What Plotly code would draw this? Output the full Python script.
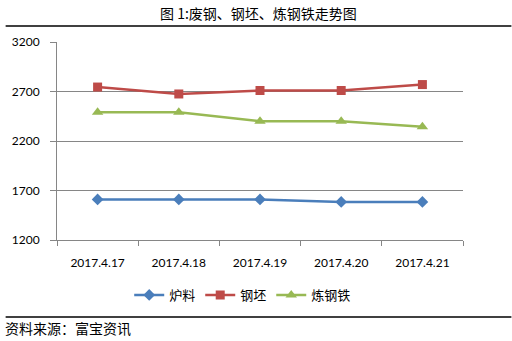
import plotly.graph_objects as go

dates = ["2017.4.17", "2017.4.18", "2017.4.19", "2017.4.20", "2017.4.21"]
furnace = [1610, 1610, 1610, 1585, 1585]        # 炉料
billet = [2745, 2675, 2710, 2710, 2770]         # 钢坯
pig_iron = [2490, 2490, 2400, 2400, 2345]       # 炼钢铁
y_ticks = [1200, 1700, 2200, 2700, 3200]

W, H = 512, 341
L, R, T, B = 52, 49, 42, 101
ph = H - T - B
pw = W - L - R

def py(pix):
    return (H - B - pix) / ph

def px(pix):
    return (pix - L) / pw

fig = go.Figure()
fig.add_trace(go.Scatter(x=dates, y=furnace, name="炉料", mode="lines+markers",
                         line=dict(color="#4A7EBB", width=2.5),
                         marker=dict(symbol="diamond", size=9, color="#4A7EBB")))
fig.add_trace(go.Scatter(x=dates, y=billet, name="钢坯", mode="lines+markers",
                         line=dict(color="#BE4B48", width=2.5),
                         marker=dict(symbol="square", size=9, color="#BE4B48")))
fig.add_trace(go.Scatter(x=dates, y=pig_iron, name="炼钢铁", mode="lines+markers",
                         line=dict(color="#98B954", width=2.5),
                         marker=dict(symbol="triangle-up", size=10, color="#98B954")))

tickfont = dict(family="Lato, Open Sans, sans-serif", size=12, color="black")

fig.update_layout(
    width=W, height=H,
    margin=dict(l=L, r=R, t=T, b=B, pad=0),
    paper_bgcolor="white", plot_bgcolor="white",
    font=dict(family="Lato, Open Sans, sans-serif", size=12, color="black"),
    showlegend=True,
    legend=dict(orientation="h", x=px(240), xanchor="center", y=py(295), yanchor="middle",
                font=dict(family="Noto Sans CJK SC", size=13, color="black"),
                itemwidth=30, tracegroupgap=0, bgcolor="rgba(0,0,0,0)"),
    xaxis=dict(type="category", tickson="boundaries", ticks="outside", ticklen=5,
               tickcolor="#868686", showline=True, linecolor="#868686", linewidth=1,
               showgrid=False, range=[-0.5, 4.5], fixedrange=True,
               ticklabelstandoff=12, tickfont=tickfont),
    yaxis=dict(range=[1200, 3200], tickvals=y_ticks, ticks="outside", ticklen=6,
               tickcolor="#868686", showline=True, linecolor="#868686", linewidth=1,
               showgrid=True, gridcolor="#868686", gridwidth=1, zeroline=False,
               fixedrange=True, ticklabelstandoff=8, tickfont=tickfont),
    shapes=[
        dict(type="line", xref="paper", yref="paper", x0=px(0), x1=px(W), y0=py(26), y1=py(26),
             line=dict(color="black", width=1.5)),
        dict(type="line", xref="paper", yref="paper", x0=px(0), x1=px(W), y0=py(317), y1=py(317),
             line=dict(color="black", width=1.5)),
    ],
    annotations=[
        dict(text="图 1:废钢、钢坯、炼钢铁走势图", xref="paper", yref="paper",
             x=px(256), y=py(13), xanchor="center", yanchor="middle", showarrow=False,
             font=dict(family="Noto Sans CJK SC", size=14, color="black")),
        dict(text="资料来源：富宝资讯", xref="paper", yref="paper",
             x=px(-3), y=py(328), xanchor="left", yanchor="middle", showarrow=False,
             font=dict(family="Noto Sans CJK SC", size=14, color="black")),
    ],
)

fig.write_html("out.html")
